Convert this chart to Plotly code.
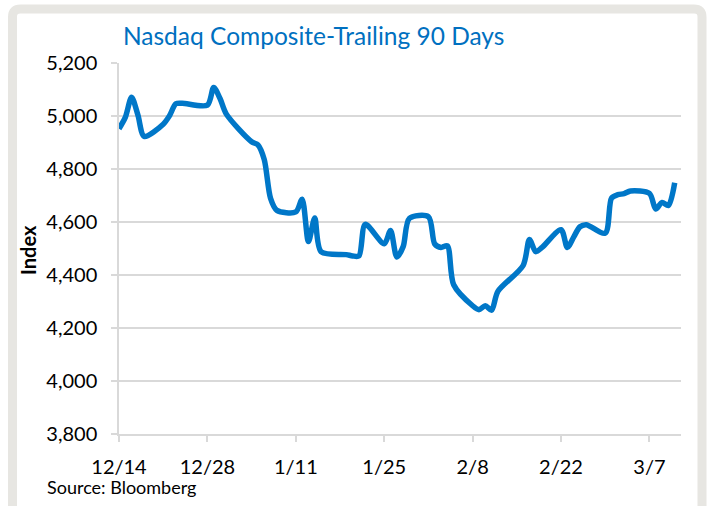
import plotly.graph_objects as go

dates = ["2015-12-14","2015-12-15","2015-12-16","2015-12-17","2015-12-18",
         "2015-12-21","2015-12-22","2015-12-23","2015-12-24","2015-12-28",
         "2015-12-29","2015-12-30","2015-12-31","2016-01-04","2016-01-05",
         "2016-01-06","2016-01-07","2016-01-08","2016-01-11","2016-01-12",
         "2016-01-13","2016-01-14","2016-01-15","2016-01-19","2016-01-20",
         "2016-01-21","2016-01-22","2016-01-25","2016-01-26","2016-01-27",
         "2016-01-28","2016-01-29","2016-02-01","2016-02-02","2016-02-03",
         "2016-02-04","2016-02-05","2016-02-08","2016-02-09","2016-02-10",
         "2016-02-11","2016-02-12","2016-02-16","2016-02-17","2016-02-18",
         "2016-02-19","2016-02-22","2016-02-23","2016-02-24","2016-02-25",
         "2016-02-26","2016-02-29","2016-03-01","2016-03-02","2016-03-03",
         "2016-03-04","2016-03-07","2016-03-08","2016-03-09","2016-03-10",
         "2016-03-11"]
index_values = [4952, 4995, 5071, 5003, 4923,
                4969, 5001, 5046, 5048, 5041,
                5108, 5066, 5007, 4903, 4891,
                4836, 4689, 4644, 4638, 4686,
                4526, 4615, 4488, 4477, 4472,
                4472, 4591, 4518, 4568, 4468,
                4507, 4614, 4620, 4517, 4504,
                4510, 4363, 4284, 4269, 4284,
                4267, 4338, 4436, 4534, 4488,
                4504, 4571, 4504, 4543, 4582,
                4590, 4558, 4690, 4703, 4707,
                4717, 4708, 4649, 4674, 4662,
                4748]

tick_dates = ["2015-12-14","2015-12-28","2016-01-11","2016-01-25",
              "2016-02-08","2016-02-22","2016-03-07"]
tick_labels = ["12/14","12/28","1/11","1/25","2/8","2/22","3/7"]
y_ticks = [3800, 4000, 4200, 4400, 4600, 4800, 5000, 5200]
y_tick_labels = ["3,800","4,000","4,200","4,400","4,600","4,800","5,000","5,200"]

title_text = "Nasdaq Composite-Trailing 90 Days"
y_title = "Index"
source_text = "Source: Bloomberg"

FONT = "Lato"
W, H = 707, 506
L, R, T, B = 119, 26, 63, 72
PW, PH = W - L - R, H - T - B

def px(x):
    return (x - L) / PW

def py(y):
    return (H - B - y) / PH

fig = go.Figure()
fig.add_trace(go.Scatter(
    x=dates, y=index_values, mode="lines",
    line=dict(color="#0077C8", width=5.5, shape="spline", smoothing=0.8),
    hoverinfo="skip", showlegend=False,
))

grid = "#D9D9D9"
fig.update_layout(
    width=W, height=H,
    margin=dict(l=L, r=R, t=T, b=B),
    paper_bgcolor="white", plot_bgcolor="white",
    font=dict(family=FONT, color="#000000"),
    xaxis=dict(
        type="date", range=["2015-12-14", "2016-03-12"],
        tickvals=tick_dates, ticktext=tick_labels,
        showgrid=False, showline=True, linecolor=grid, linewidth=1.5,
        ticks="outside", ticklen=6, tickcolor=grid, tickwidth=1.5,
        tickfont=dict(family=FONT, size=20, color="#000000"),
        ticklabelstandoff=8, zeroline=False,
    ),
    yaxis=dict(
        range=[3800, 5200], tickvals=y_ticks, ticktext=y_tick_labels,
        showgrid=True, gridcolor=grid, gridwidth=1.5,
        showline=True, linecolor=grid, linewidth=1.5,
        ticks="outside", ticklen=6, tickcolor=grid, tickwidth=1.5,
        tickfont=dict(family=FONT, size=20, color="#000000"),
        ticklabelstandoff=10, zeroline=False,
    ),
    shapes=[dict(
        type="path", xref="paper", yref="paper",
        path=(f"M {px(12.5)},{py(17)} Q {px(12.5)},{py(9)} {px(20.5)},{py(9)} "
              f"L {px(694)},{py(9)} Q {px(702)},{py(9)} {px(702)},{py(17)} "
              f"L {px(702)},{py(530)} L {px(12.5)},{py(530)} Z"),
        line=dict(color="#E7E6E2", width=9), fillcolor="rgba(0,0,0,0)",
        layer="below",
    )],
    annotations=[
        dict(text=title_text, xref="paper", yref="paper", x=px(121), y=py(36),
             xanchor="left", yanchor="middle", showarrow=False,
             font=dict(family=FONT, size=24.5, color="#0070C0")),
        dict(text=f"<b>{y_title}</b>", xref="paper", yref="paper", x=px(28), y=py(250),
             xanchor="center", yanchor="middle", textangle=-90, showarrow=False,
             font=dict(family=FONT, size=20, color="#000000")),
        dict(text=source_text, xref="paper", yref="paper", x=px(45), y=py(487),
             xanchor="left", yanchor="middle", showarrow=False,
             font=dict(family=FONT, size=18, color="#000000")),
    ],
)

fig.write_html("out.html", config={"displayModeBar": False},
               post_script="document.body.style.margin='0px';document.body.style.overflow='hidden';")
